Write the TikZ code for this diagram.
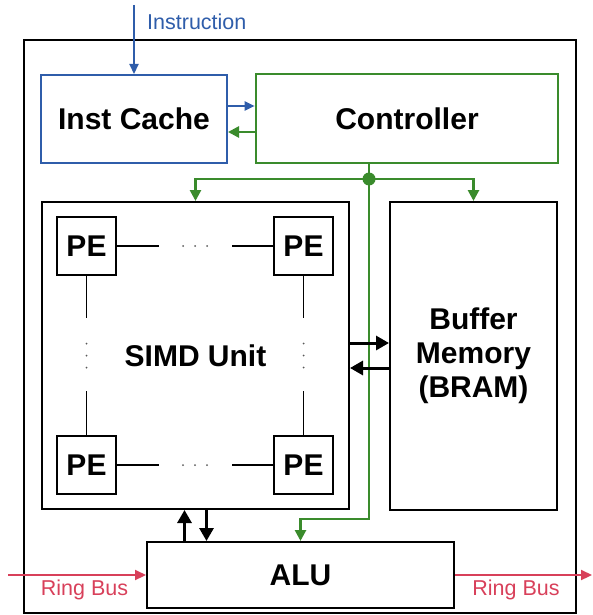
\documentclass[tikz,border=0pt]{standalone}
\usepackage{fontspec}
\setmainfont{Liberation Sans}
\usetikzlibrary{arrows.meta,positioning,calc}
\definecolor{cB}{HTML}{2F5DAA}
\definecolor{cG}{HTML}{3A8B2C}
\definecolor{cR}{HTML}{D8405A}
\tikzset{
  blk/.style={draw,line width=2pt,inner sep=0pt,align=center,
              font=\fontsize{30}{34}\selectfont\bfseries},
  pe/.style={blk,minimum width=59pt,minimum height=58pt},
  lbl/.style={inner sep=0pt,font=\fontsize{21.5}{25}\selectfont},
  link/.style={line width=1.4pt},
  bus/.style={-{Triangle[length=13pt,width=14pt]},line width=3pt},
  ctl/.style={-{Triangle[length=11pt,width=11pt]},cG,line width=2.6pt},
  inst/.style={-{Triangle[length=10pt,width=9pt]},cB,line width=2.2pt},
  ring/.style={-{Triangle[length=11pt,width=10pt]},cR,line width=2.2pt},
}

\begin{document}
\begin{tikzpicture}[x=1pt,y=-1pt]
  \useasboundingbox (0,0) rectangle (592,615);
  % chip outline
  \draw[line width=2.3pt] (24,40) rectangle (576,613);
  % main blocks
  \node[blk,draw=cB,minimum width=186pt,minimum height=88pt] (cache) at (134,119) {Inst Cache};
  \node[blk,draw=cG,line width=2.6pt,minimum width=302pt,minimum height=89pt] (ctrl) at (407,118.5) {Controller};
  \node[blk,minimum width=307pt,minimum height=307pt] (simd) at (195.5,355.5) {SIMD Unit};
  \node[blk,minimum width=167pt,minimum height=308pt] (buf) at (473.5,356) {Buffer\\Memory\\(BRAM)};
  \node[blk,minimum width=307pt,minimum height=66pt] (alu) at (300.5,575) {ALU};

  % PE corners of the array
  \foreach \n/\x/\y in {pa/86.5/246,pb/303.5/246,pc/86.5/465,pd/303.5/465}
    \node[pe] (\n) at (\x,\y) {PE};
  \draw[link] (pa.east) -- +(42,0) (pb.west) -- +(-41,0);
  \draw[link] (pc.east) -- +(42,0) (pd.west) -- +(-41,0);
  \draw[link] (pa.south) -- +(0,42) (pc.north) -- +(0,-44);
  \draw[link] (pb.south) -- +(0,42) (pd.north) -- +(0,-44);
  \foreach \d in {-12,0,12}{
    \fill[gray!70!black] ($(pa)!.5!(pb)+(\d,0)$) circle (1pt);
    \fill[gray!70!black] ($(pc)!.5!(pd)+(\d,0)$) circle (1pt);
    \fill[gray!70!black] ($(pa)!.5!(pc)+(0,\d)$) circle (1pt);
    \fill[gray!70!black] ($(pb)!.5!(pd)+(0,\d)$) circle (1pt);
  }

  % instruction path
  \coordinate (instin) at (134,5);
  \draw[inst] (instin) -- (cache.north);
  \node[lbl,cB,anchor=west] (instlbl) at (147,22) {Instruction};
  \draw[inst] ([yshift=13pt]cache.east) -- ([yshift=13pt]cache.east -| ctrl.west);
  \draw[ctl] ([yshift=-13pt]cache.east -| ctrl.west) -- ([yshift=-13pt]cache.east);

  % control fan-out
  \coordinate (jn) at (369,179);
  \coordinate (bend) at (369,519);
  \draw[cG,line width=2.6pt] (ctrl.south -| jn) -- (jn);
  \draw[ctl] (jn) -| (simd.north);
  \draw[ctl] (jn) -| (buf.north);
  \draw[ctl] (jn) -- (bend) -| (alu.north);
  \fill[cG] (jn) circle (6.5pt);

  % data paths
  \draw[bus] ([yshift=12.5pt]simd.east) -- ([yshift=12.5pt]simd.east -| buf.west);
  \draw[bus] ([yshift=-12.5pt]simd.east -| buf.west) -- ([yshift=-12.5pt]simd.east);
  \draw[bus] ([xshift=-11pt]simd.south |- alu.north) -- ([xshift=-11pt]simd.south);
  \draw[bus] ([xshift=11pt]simd.south) -- ([xshift=11pt]simd.south |- alu.north);

  % ring bus
  \coordinate (rin) at (8,575);
  \coordinate (rout) at (592,575);
  \draw[ring] (rin) -- (alu.west);
  \draw[ring] (alu.east) -- (rout);
  \node[lbl,cR] (rinlbl) at (84.5,590) {Ring Bus};
  \node[lbl,cR] (routlbl) at (516,590) {Ring Bus};
\end{tikzpicture}
\end{document}
